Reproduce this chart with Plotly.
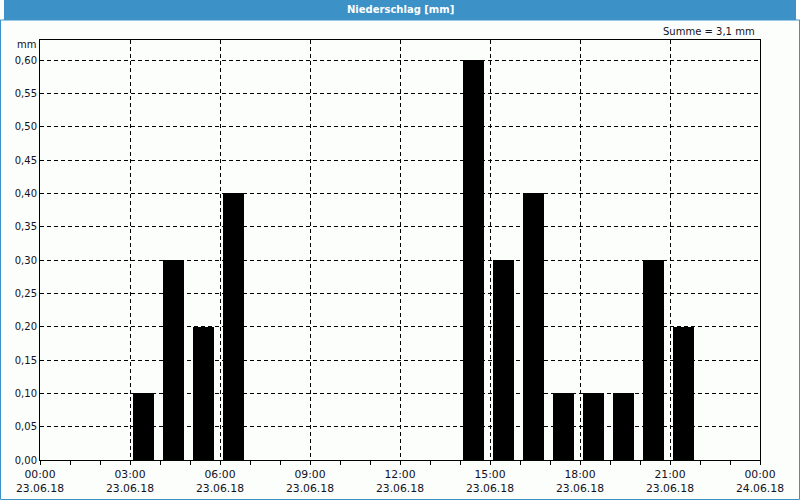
import plotly.graph_objects as go

hours = [3, 4, 5, 6, 14, 15, 16, 17, 18, 19, 20, 21]
precip = [0.10, 0.30, 0.20, 0.40, 0.60, 0.30, 0.40, 0.10, 0.10, 0.10, 0.30, 0.20]
tick_hours = [0, 3, 6, 9, 12, 15, 18, 21, 24]
tick_labels = ["00:00<br>23.06.18", "03:00<br>23.06.18", "06:00<br>23.06.18",
               "09:00<br>23.06.18", "12:00<br>23.06.18", "15:00<br>23.06.18",
               "18:00<br>23.06.18", "21:00<br>23.06.18", "00:00<br>24.06.18"]
y_ticks = [i * 0.05 for i in range(13)]
title = "Niederschlag [mm]"
sum_text = "Summe = 3,1 mm"

blue = "#3C92C7"
font = "DejaVu Sans"
fs = 10

fig = go.Figure()
fig.add_trace(go.Bar(
    x=[h + 0.45 for h in hours], y=precip, width=0.7,
    marker=dict(color="black", line=dict(width=0)),
    hoverinfo="skip",
))

fig.update_layout(
    width=800, height=500,
    margin=dict(l=40, r=40, t=40, b=40),
    paper_bgcolor="#FCFEFC", plot_bgcolor="#FCFEFC",
    separators=",.",
    showlegend=False,
    font=dict(family=font, size=fs, color="#111122"),
    bargap=0,
)
fig.update_xaxes(
    range=[0, 24], tickmode="array", tickvals=tick_hours, ticktext=tick_labels,
    showgrid=True, gridcolor="black", gridwidth=1, griddash="4px,3px",
    showline=True, linecolor="black", linewidth=1, mirror=True,
    ticks="outside", ticklen=4, tickcolor="black",
    minor=dict(dtick=1, tick0=0, ticks="outside", ticklen=4, tickcolor="black", showgrid=False),
    zeroline=False, tickfont=dict(size=10.8), ticklabelstandoff=0, automargin=False,
)
fig.update_yaxes(
    range=[0, 0.63], tickmode="array", tickvals=y_ticks, tickformat=".2f",
    showgrid=True, gridcolor="black", gridwidth=1, griddash="4px,3px",
    showline=True, linecolor="black", linewidth=1, mirror=True,
    ticks="", zeroline=False, tickfont=dict(size=fs), automargin=False,
)

# title bar and frame
fig.add_shape(type="rect", xref="paper", yref="paper", x0=-0.05, x1=1.05,
              y0=1 + 20/420, y1=1 + 40/420, fillcolor=blue, line=dict(width=0), layer="above")
fig.add_annotation(text="<b>" + title + "</b>", xref="paper", yref="paper",
                   x=0.5, y=1 + 31/420, showarrow=False, font=dict(color="white", size=fs, family=font),
                   xanchor="center", yanchor="middle")
fig.add_shape(type="rect", xref="paper", yref="paper", x0=-40/720 + 0.5/720, x1=1 + 40/720 - 0.5/720,
              y0=-40/420 + 0.5/420, y1=1 + 20/420, line=dict(color=blue, width=1), layer="above")
fig.add_annotation(text=sum_text, xref="paper", yref="paper", x=1 - 3/720, y=1 + 9/420,
                   showarrow=False, xanchor="right", yanchor="middle", font=dict(size=fs))
fig.add_annotation(text="mm", xref="paper", yref="paper", x=-2/720, y=1 - 5/420,
                   showarrow=False, xanchor="right", yanchor="middle", font=dict(size=fs))

fig.write_html("out.html")
